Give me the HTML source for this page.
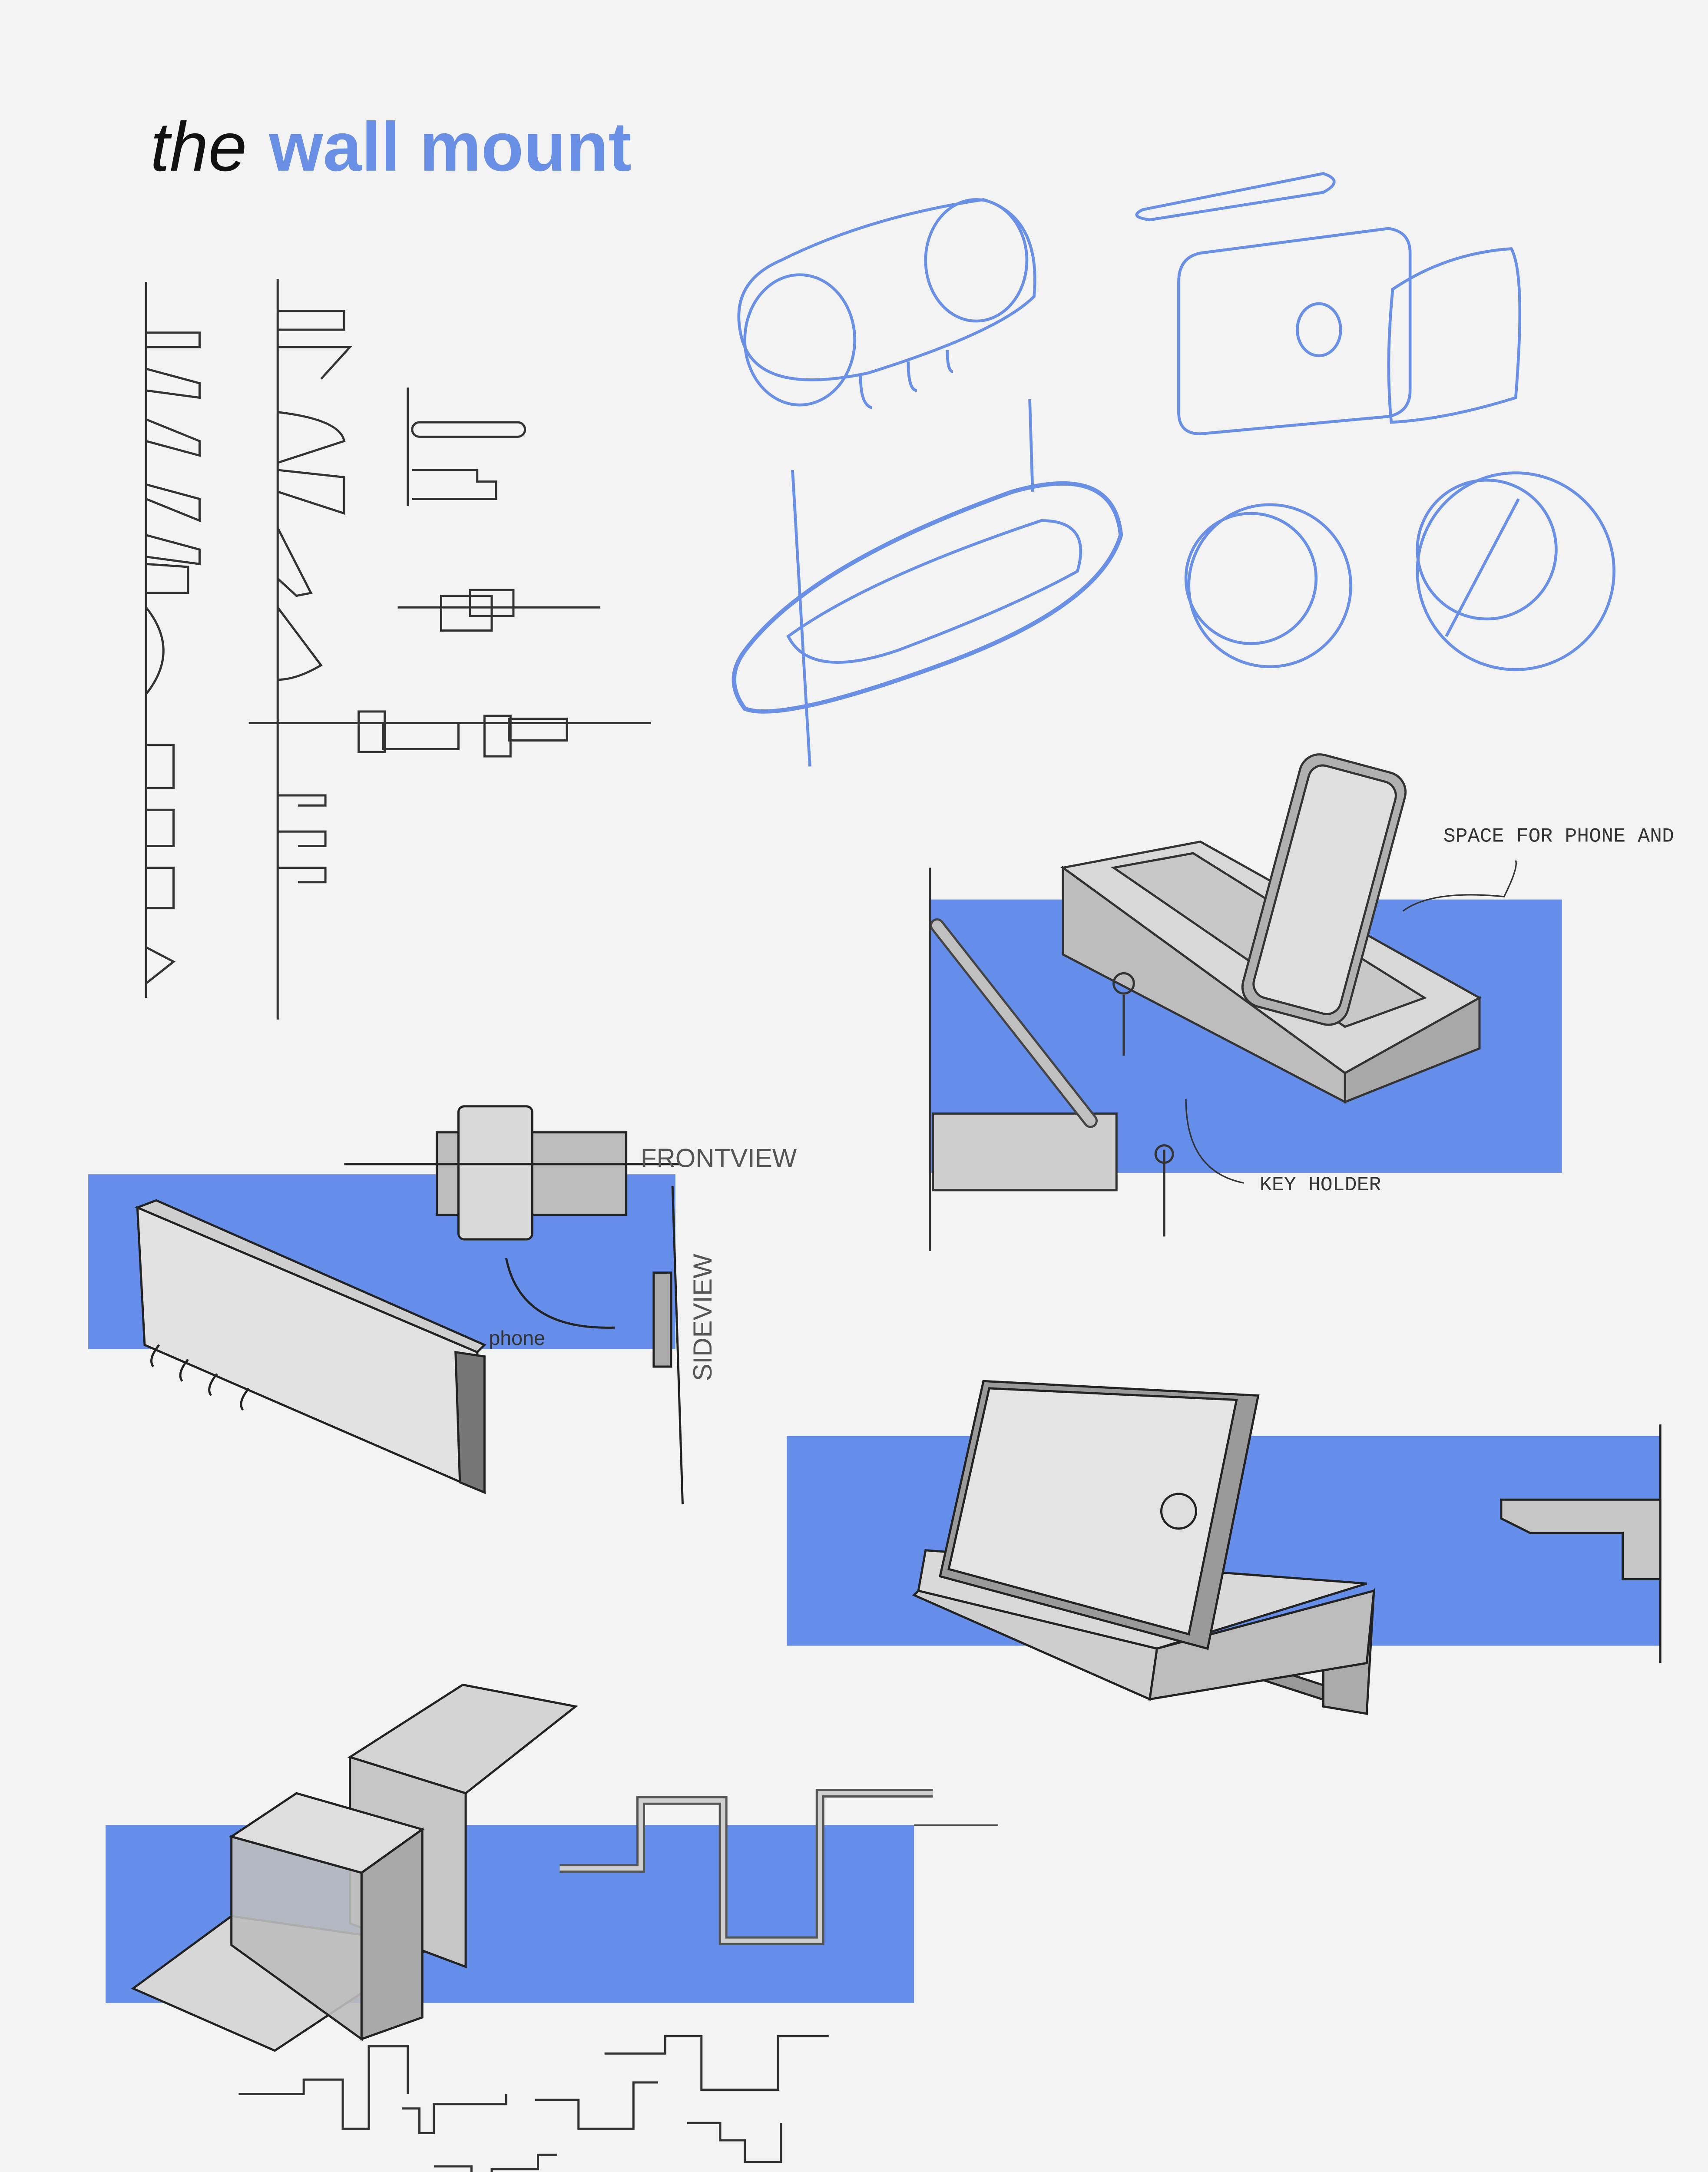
<!DOCTYPE html>
<html><head><meta charset="utf-8"><style>
html,body{margin:0;padding:0;background:#f3f3f3;width:3932px;height:5220px;overflow:hidden;}
svg{display:block;}
</style></head><body>
<svg width="3932" height="5220" viewBox="0 0 1181 1568" preserveAspectRatio="none" xmlns="http://www.w3.org/2000/svg">
<rect width="1181" height="1568" fill="#f3f3f3"/>
<text x="104" y="118" font-family="Liberation Sans, sans-serif" font-style="italic" font-size="48" fill="#111">the</text>
<text x="186" y="118" font-family="Liberation Sans, sans-serif" font-weight="bold" font-size="48" fill="#6a90e6">wall mount</text>

<rect x="643" y="622" width="437" height="189" fill="#658dea"/>
<rect x="61" y="812" width="406" height="121" fill="#658dea"/>
<rect x="544" y="993" width="604" height="145" fill="#658dea"/>
<rect x="73" y="1262" width="559" height="123" fill="#658dea"/>

<g fill="none" stroke="#333" stroke-width="1.5">
<line x1="101" y1="195" x2="101" y2="690"/>
<line x1="192" y1="193" x2="192" y2="705"/>
<polyline points="101,230 138,230 138,240 101,240"/>
<polyline points="101,255 138,265 138,275 101,270"/>
<polyline points="101,290 138,305 138,315 101,305"/>
<polyline points="101,335 138,345 138,360 101,345"/>
<polyline points="101,370 138,380 138,390 101,385"/>
<polyline points="101,390 130,392 130,410 101,410"/>
<path d="M101,420 Q125,450 101,480"/>
<polyline points="101,515 120,515 120,545 101,545"/>
<polyline points="101,560 120,560 120,585 101,585"/>
<polyline points="101,600 120,600 120,628 101,628"/>
<polyline points="101,655 120,665 101,680"/>
<polyline points="192,215 238,215 238,228 192,228"/>
<polyline points="192,240 242,240 222,262"/>
<path d="M192,285 Q235,290 238,305 L192,320"/>
<polyline points="192,325 238,330 238,355 192,340"/>
<polyline points="192,365 215,410 205,412 192,400"/>
<path d="M192,420 L222,460 Q205,470 192,470"/>
<polyline points="192,550 225,550 225,557 206,557"/>
<polyline points="192,575 225,575 225,585 206,585"/>
<polyline points="192,600 225,600 225,610 206,610"/>
<line x1="282" y1="268" x2="282" y2="350"/>
<rect x="285" y="292" width="78" height="10" rx="5"/>
<polyline points="285,325 330,325 330,333 343,333 343,345 285,345"/>
<line x1="275" y1="420" x2="415" y2="420"/>
<rect x="305" y="412" width="35" height="24"/>
<rect x="325" y="408" width="30" height="18"/>
<line x1="172" y1="500" x2="450" y2="500"/>
<rect x="248" y="492" width="18" height="28"/>
<rect x="265" y="500" width="52" height="18"/>
<rect x="335" y="495" width="18" height="28"/>
<rect x="352" y="497" width="40" height="15"/>
</g>

<g fill="none" stroke="#6a90e6" stroke-width="2">
<path d="M540,180 Q600,150 680,138 Q720,150 715,205 Q690,230 600,258 Q520,275 512,230 Q505,195 540,180Z"/>
<ellipse cx="553" cy="235" rx="38" ry="45"/>
<ellipse cx="675" cy="180" rx="35" ry="42"/>
<path d="M595,260 q0,20 8,22 M628,250 q0,20 6,20 M655,242 q0,15 4,15"/>
<path d="M790,145 L915,120 Q930,125 915,133 L795,152 Q780,150 790,145Z"/>
<path d="M830,175 L960,158 Q975,160 975,175 L975,270 Q975,285 960,288 L830,300 Q815,300 815,285 L815,195 Q815,178 830,175Z"/>
<ellipse cx="912" cy="228" rx="15" ry="18"/>
<path d="M963,200 Q1000,175 1045,172 Q1055,190 1048,275 Q1000,290 962,292 Q958,250 963,200Z"/>
<path d="M515,450 Q560,390 700,340 Q770,320 775,370 Q760,420 650,460 Q540,500 515,490 Q500,470 515,450Z" stroke-width="3"/>
<path d="M545,440 Q600,400 720,360 Q755,360 745,395 Q700,420 620,450 Q560,470 545,440Z"/>
<line x1="548" y1="325" x2="560" y2="530"/>
<line x1="712" y1="276" x2="714" y2="340"/>
<circle cx="878" cy="405" r="56"/>
<circle cx="865" cy="400" r="45"/>
<circle cx="1048" cy="395" r="68"/>
<circle cx="1028" cy="380" r="48"/>
<line x1="1000" y1="440" x2="1050" y2="345"/>
</g>

<g stroke="#333" stroke-width="1.5">
<polygon points="735,600 830,582 1023,690 930,742" fill="#d8d8d8"/>
<polygon points="735,600 930,742 930,762 735,660" fill="#bdbdbd"/>
<polygon points="930,742 1023,690 1023,725 930,762" fill="#a8a8a8"/>
<polygon points="770,600 825,590 985,690 930,710" fill="#c8c8c8"/>
<rect x="878" y="525" width="75" height="180" rx="14" fill="#b0b0b0" transform="rotate(15 915 615)"/>
<rect x="885" y="532" width="62" height="166" rx="10" fill="#e0e0e0" transform="rotate(15 915 615)"/>
<rect x="645" y="770" width="127" height="53" fill="#cfcfcf"/>
<line x1="648" y1="640" x2="754" y2="775" stroke="#444" stroke-width="10" stroke-linecap="round"/>
<line x1="648" y1="640" x2="754" y2="775" stroke="#c0c0c0" stroke-width="7" stroke-linecap="round"/>
<line x1="643" y1="600" x2="643" y2="865" fill="none"/>
<line x1="805" y1="795" x2="805" y2="855"/>
<circle cx="805" cy="798" r="6" fill="none"/>
<circle cx="777" cy="680" r="7" fill="none"/>
<line x1="777" y1="688" x2="777" y2="730"/>
</g>
<path d="M970,630 Q990,615 1040,620 Q1050,600 1048,595" fill="none" stroke="#333"/>
<path d="M820,760 Q820,810 860,818" fill="none" stroke="#333"/>
<text x="998" y="582" font-family="Liberation Mono, monospace" font-size="14" fill="#333">SPACE FOR PHONE AND</text>
<text x="871" y="823" font-family="Liberation Mono, monospace" font-size="14" fill="#333">KEY HOLDER</text>

<g stroke="#222" stroke-width="1.5">
<polygon points="95,835 330,935 335,1032 100,930" fill="#e2e2e2"/>
<polygon points="315,935 335,938 335,1032 318,1025" fill="#777"/>
<polygon points="95,835 108,830 335,930 330,935" fill="#cfcfcf"/>
<path d="M110,930 q-8,10 -4,15 M130,940 q-8,10 -4,15 M150,950 q-8,10 -4,15 M172,960 q-8,10 -4,15" fill="none"/>
<rect x="302" y="783" width="131" height="57" fill="#bcbcbc"/>
<rect x="317" y="765" width="51" height="92" rx="4" fill="#dadada"/>
<line x1="238" y1="805" x2="470" y2="805" fill="none"/>
<line x1="465" y1="820" x2="472" y2="1040" fill="none"/>
<rect x="452" y="880" width="12" height="65" fill="#aaa"/>
<path d="M350,870 Q360,920 425,918" fill="none"/>
</g>
<text x="443" y="807" font-family="Liberation Sans, sans-serif" font-size="18" fill="#555">FRONTVIEW</text>
<text x="338" y="930" font-family="Liberation Sans, sans-serif" font-size="14" fill="#333">phone</text>
<text transform="translate(492,955) rotate(-90)" font-family="Liberation Sans, sans-serif" font-size="18" fill="#555">SIDEVIEW</text>

<g stroke="#222" stroke-width="1.5">
<polygon points="868,1150 945,1175 945,1185 868,1160" fill="#999"/>
<polygon points="915,1140 950,1100 945,1185 915,1180" fill="#aaa"/>
<polygon points="640,1072 945,1095 800,1140 635,1100" fill="#d9d9d9"/>
<polygon points="635,1100 800,1140 795,1175 632,1103" fill="#cfcfcf"/>
<polygon points="800,1140 950,1100 945,1150 795,1175" fill="#bcbcbc"/>
<polygon points="680,955 870,965 835,1140 650,1090" fill="#9a9a9a"/>
<polygon points="684,960 855,968 822,1130 656,1085" fill="#e4e4e4"/>
<circle cx="815" cy="1045" r="12" fill="#ddd"/>
<polygon points="1038,1037 1148,1037 1148,1092 1122,1092 1122,1060 1058,1060 1038,1050" fill="#c6c6c6"/>
<line x1="1148" y1="985" x2="1148" y2="1150"/>
</g>

<g stroke="#222" stroke-width="1.5">
<polygon points="92,1375 160,1325 300,1345 190,1418" fill="#d7d7d7"/>
<polygon points="242,1215 320,1165 398,1180 322,1240" fill="#d4d4d4"/>
<polygon points="242,1215 322,1240 322,1360 242,1330" fill="#c6c6c6"/>
<polygon points="160,1270 205,1240 292,1265 250,1295" fill="#dedede"/>
<polygon points="160,1270 250,1295 250,1410 160,1345" fill="#bdbdbd" fill-opacity="0.9"/>
<polygon points="250,1295 292,1265 292,1395 250,1410" fill="#a9a9a9"/>
</g>
<polyline points="387,1292 443,1292 443,1245 500,1245 500,1342 567,1342 567,1240 645,1240" fill="none" stroke="#555" stroke-width="6"/>
<polyline points="387,1292 443,1292 443,1245 500,1245 500,1342 567,1342 567,1240 645,1240" fill="none" stroke="#cfcfcf" stroke-width="3"/>
<line x1="632" y1="1262" x2="690" y2="1262" stroke="#555"/>
<g fill="none" stroke="#333" stroke-width="1.5">
<polyline points="165,1448 210,1448 210,1438 237,1438 237,1472 255,1472 255,1415 282,1415 282,1448"/>
<polyline points="278,1458 290,1458 290,1475 300,1475 300,1455 350,1455 350,1448"/>
<polyline points="370,1452 400,1452 400,1472 438,1472 438,1440 455,1440"/>
<polyline points="418,1420 460,1420 460,1408 485,1408 485,1445 538,1445 538,1408 573,1408"/>
<polyline points="475,1468 498,1468 498,1480 515,1480 515,1495 540,1495 540,1468"/>
<polyline points="300,1498 326,1498 326,1525 340,1525 340,1500 372,1500 372,1490 385,1490"/>
</g>
</svg>
</body></html>
